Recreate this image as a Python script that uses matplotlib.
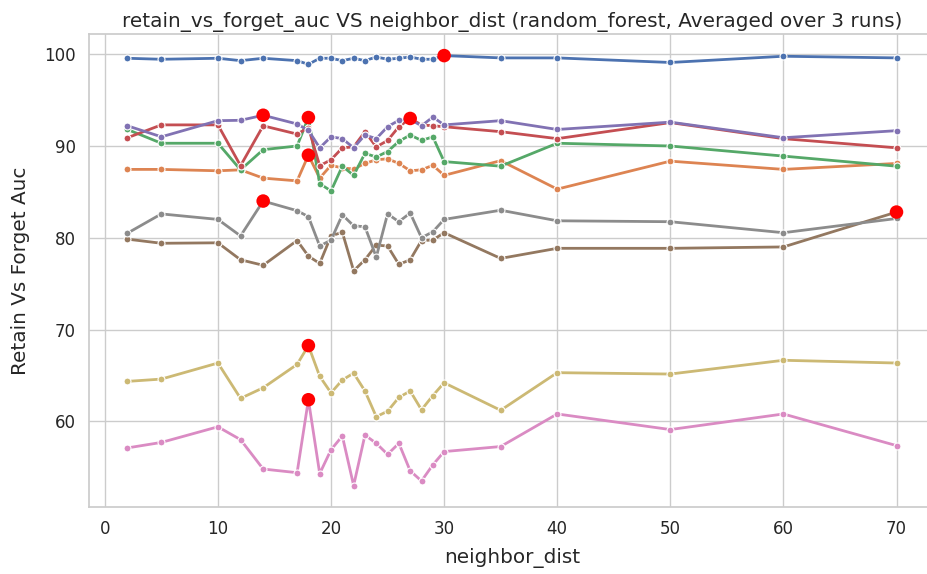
import matplotlib
matplotlib.use("Agg")
import matplotlib.pyplot as plt
import seaborn as sns
import numpy as np

neighbor_dist = [2, 5, 10, 12, 14, 17, 18, 19, 20, 21, 22, 23, 24, 25, 26, 27, 28, 29, 30, 35, 40, 50, 60, 70]

auc_blue = [99.56, 99.45, 99.56, 99.3, 99.56, 99.3, 98.9, 99.56, 99.56, 99.3, 99.56, 99.3, 99.7,
            99.45, 99.56, 99.7, 99.45, 99.45, 99.85, 99.6, 99.6, 99.1, 99.78, 99.6]
auc_orange = [87.45, 87.45, 87.3, 87.4, 86.5, 86.2, 89.0, 86.5, 87.9, 87.6, 87.5, 88.1, 88.5,
              88.6, 88.1, 87.3, 87.4, 87.9, 86.8, 88.4, 85.3, 88.35, 87.45, 88.1]
auc_green = [91.8, 90.3, 90.3, 87.4, 89.6, 90.0, 93.1, 85.9, 85.1, 87.8, 86.8, 89.2, 88.8,
             89.4, 90.5, 91.2, 90.6, 91.0, 88.3, 87.8, 90.3, 90.0, 88.9, 87.8]
auc_red = [90.9, 92.3, 92.3, 87.85, 92.2, 91.3, 92.0, 87.85, 88.5, 89.8, 89.9, 91.56, 89.9,
           90.6, 92.1, 93.0, 92.3, 92.2, 92.1, 91.56, 90.8, 92.55, 90.8, 89.8]
auc_purple = [92.2, 91.0, 92.76, 92.8, 93.35, 92.4, 91.7, 89.8, 91.0, 90.8, 89.8, 91.2, 90.8,
              92.1, 92.8, 92.9, 92.2, 93.15, 92.3, 92.76, 91.8, 92.6, 90.9, 91.67]
auc_brown = [79.85, 79.4, 79.45, 77.6, 77.0, 79.7, 78.0, 77.2, 80.2, 80.6, 76.4, 77.6, 79.2,
             79.1, 77.1, 77.6, 79.7, 79.75, 80.55, 77.75, 78.85, 78.85, 79.0, 82.8]
auc_pink = [57.1, 57.7, 59.4, 58.0, 54.8, 54.4, 62.35, 54.3, 56.9, 58.4, 53.0, 58.5, 57.6,
            56.4, 57.6, 54.6, 53.5, 55.25, 56.7, 57.25, 60.8, 59.1, 60.8, 57.35]
auc_gray = [80.5, 82.6, 82.0, 80.2, 84.0, 82.95, 82.3, 79.1, 79.75, 82.5, 81.3, 81.2, 77.9,
            82.6, 81.75, 82.7, 80.0, 80.65, 82.0, 83.0, 81.85, 81.75, 80.55, 82.1]
auc_olive = [64.35, 64.6, 66.35, 62.5, 63.65, 66.2, 68.25, 64.9, 63.1, 64.5, 65.25, 63.3, 60.5,
             61.1, 62.6, 63.3, 61.25, 62.8, 64.2, 61.2, 65.3, 65.15, 66.65, 66.35]

series = [auc_blue, auc_orange, auc_green, auc_red, auc_purple,
          auc_brown, auc_pink, auc_gray, auc_olive]

sns.set_theme(style="whitegrid")
palette = sns.color_palette("deep", 10)

fig = plt.figure(figsize=(9.28, 5.74), dpi=100)
ax = fig.add_axes([0.0959, 0.1167, 0.9116, 0.824])

for i, vals in enumerate(series):
    ax.plot(neighbor_dist, vals, color=palette[i], lw=2, marker="o", ms=5,
            mec="white", mew=0.8, zorder=2)

# highlight the best score of each series
for vals in series:
    k = int(np.argmax(vals))
    ax.scatter(neighbor_dist[k], vals[k], s=95, color="red", zorder=5, edgecolors="none")

ax.set_xlim(-1.4, 73.4)
ax.set_ylim(50.66, 102.2)
ax.set_xticks([0, 10, 20, 30, 40, 50, 60, 70])
ax.set_yticks([60, 70, 80, 90, 100])
ax.tick_params(labelsize=12)
ax.set_xlabel("neighbor_dist", fontsize=14.4, labelpad=7)
ax.set_ylabel("Retain Vs Forget Auc", fontsize=14.4, labelpad=10)
ax.set_title("retain_vs_forget_auc VS neighbor_dist (random_forest, Averaged over 3 runs)",
             fontsize=14.4, pad=5)

fig.savefig("out.png", dpi=100)
